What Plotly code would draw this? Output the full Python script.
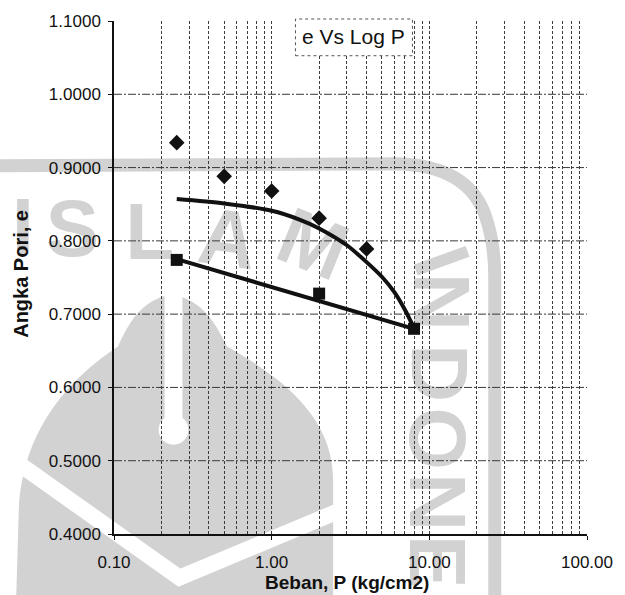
import plotly.graph_objects as go

# Consolidation test: void ratio vs. applied load (log scale)
load_loading = [0.25, 0.5, 1.0, 2.0, 4.0]          # kg/cm2
e_loading = [0.934, 0.888, 0.868, 0.831, 0.789]

load_unloading = [0.25, 2.0, 8.0]
e_unloading = [0.774, 0.728, 0.680]

# fitted curve through the loading branch
curve_load = [0.25, 0.5, 1.0, 1.5, 2.0, 3.0, 4.0, 5.0, 6.0, 7.0, 8.0]
curve_e = [0.857, 0.851, 0.841, 0.829, 0.817, 0.794, 0.771, 0.751, 0.730, 0.706, 0.681]

# straight trend line through the unloading branch
trend_load = [0.25, 8.0]
trend_e = [0.775, 0.680]

x_tickvals = [0.1, 1, 10, 100]
x_ticktext = ["0.10", "1.00", "10.00", "100.00"]
y_gridvals = [0.5, 0.6, 0.7, 0.8, 0.9, 1.0]

W, H = 625, 595
ML, MR, MT, MB = 114, 34, 17, 61
PW, PH = W - ML - MR, H - MT - MB

INK = "#111111"
GRID = "#3a3a3a"
WM = "#d2d2d2"
FONT = "Liberation Sans, Arial, sans-serif"


def px(x):
    return (x - ML) / PW


def py(y):
    return (H - MB - y) / PH


def path(cmds):
    out = []
    for c in cmds:
        if isinstance(c, str):
            out.append(c)
        else:
            out.append(f"{px(c[0]):.4f},{py(c[1]):.4f}")
    return " ".join(out)


fig = go.Figure()

fig.add_trace(go.Scatter(
    x=curve_load, y=curve_e, mode="lines",
    line=dict(color=INK, width=4, shape="spline", smoothing=0.8),
    hoverinfo="skip"))
fig.add_trace(go.Scatter(
    x=trend_load, y=trend_e, mode="lines",
    line=dict(color=INK, width=4), hoverinfo="skip"))
fig.add_trace(go.Scatter(
    x=load_loading, y=e_loading, mode="markers",
    marker=dict(symbol="diamond", size=12, color=INK)))
fig.add_trace(go.Scatter(
    x=load_unloading, y=e_unloading, mode="markers",
    marker=dict(symbol="square", size=12, color=INK)))

shapes = []
# background emblem (drawn beneath the grid)
shapes.append(dict(
    type="path", xref="paper", yref="paper", layer="below",
    path=path(["M", (-10, 163), "L", (400, 161), "Q", (470, 163), (488, 212),
               "Q", (498, 240), (498, 275), "L", (498, 610)]),
    line=dict(color=WM, width=13)))
shapes.append(dict(
    type="path", xref="paper", yref="paper", layer="below",
    path=path(["M", (18, 510), "C", (22, 420), (80, 370), (118, 345),
               "C", (130, 320), (140, 300), (172, 292),
               "C", (205, 300), (215, 320), (228, 345),
               "C", (290, 380), (335, 420), (335, 480),
               "L", (335, 610), "L", (15, 610), "Z"]),
    fillcolor=WM, line=dict(width=0)))
shapes.append(dict(
    type="path", xref="paper", yref="paper", layer="below",
    path=path(["M", (22, 466), "L", (180, 578), "L", (338, 512)]),
    line=dict(color="white", width=16)))
shapes.append(dict(
    type="rect", xref="paper", yref="paper", layer="below",
    x0=px(165), x1=px(183), y0=py(440), y1=py(286),
    fillcolor="white", line=dict(width=0)))
shapes.append(dict(
    type="circle", xref="paper", yref="paper", layer="below",
    x0=px(159), x1=px(189), y0=py(444), y1=py(414),
    fillcolor="white", line=dict(width=0)))

emblem_letters = [
    ("I", 22, 216, 0), ("S", 72, 218, 0), ("L", 150, 221, 0),
    ("A", 230, 228, 8), ("M", 318, 234, 22),
    ("I", 452, 256, 70), ("N", 452, 300, 90), ("D", 450, 372, 90),
    ("O", 448, 438, 90), ("N", 448, 502, 90), ("E", 448, 562, 90),
]
for ch, cx, cy, ang in emblem_letters:
    shapes.append(dict(
        type="rect", xref="paper", yref="paper", layer="below",
        x0=px(cx - 30), x1=px(cx + 30), y0=py(cy + 30), y1=py(cy - 30),
        line=dict(width=0), fillcolor="rgba(0,0,0,0)",
        label=dict(text=ch, textangle=ang, textposition="middle center",
                   font=dict(family=FONT, size=80, color=WM, weight="bold"))))

# horizontal grid lines (none along the top edge)
for gv in y_gridvals:
    shapes.append(dict(
        type="line", xref="paper", yref="y", layer="below",
        x0=0, x1=1, y0=gv, y1=gv,
        line=dict(color=GRID, width=1, dash="8px,2px,2px,2px")))

# title frame
shapes.append(dict(
    type="rect", xref="paper", yref="paper", layer="above",
    x0=px(297), x1=px(415), y0=py(52), y1=py(15),
    fillcolor="white", line=dict(color="#555555", width=1, dash="dot")))

annotations = [
    dict(text="e Vs Log P", xref="paper", yref="paper",
         x=px(356), y=py(33), xanchor="center", yanchor="middle",
         showarrow=False, font=dict(family=FONT, size=21, color=INK)),
    dict(text="<b>Beban, P (kg/cm2)</b>", xref="paper", yref="paper",
         x=px(349), y=py(583), xanchor="center", yanchor="middle",
         showarrow=False, font=dict(family=FONT, size=19, color=INK)),
    dict(text="<b>Angka Pori, e</b>", xref="paper", yref="paper",
         x=px(20), y=py(272), xanchor="center", yanchor="middle",
         textangle=-90, showarrow=False,
         font=dict(family=FONT, size=20, color=INK)),
]

fig.update_layout(
    width=W, height=H, autosize=False,
    margin=dict(l=ML, r=MR, t=MT, b=MB),
    paper_bgcolor="white", plot_bgcolor="rgba(0,0,0,0)",
    showlegend=False,
    font=dict(family=FONT, color=INK),
    shapes=shapes, annotations=annotations,
)

fig.update_xaxes(
    type="log", range=[-1, 2],
    tickvals=x_tickvals, ticktext=x_ticktext,
    tickfont=dict(size=17, color=INK), ticklabelstandoff=8,
    ticks="outside", ticklen=4, tickcolor=INK,
    showline=True, linecolor=INK, linewidth=1.5,
    showgrid=True, gridcolor=GRID, gridwidth=1, griddash="3px,2px",
    minor=dict(dtick="D1", showgrid=True, gridcolor=GRID, gridwidth=1,
               griddash="3px,2px", ticks=""),
    zeroline=False,
)
fig.update_yaxes(
    range=[0.4, 1.1], dtick=0.1, tick0=0.4, tickformat=".4f",
    tickfont=dict(size=17, color=INK), ticklabelstandoff=4,
    ticks="outside", ticklen=4, tickcolor=INK,
    showline=True, linecolor=INK, linewidth=1.5,
    showgrid=False, zeroline=False,
)

fig.write_html("out.html")
